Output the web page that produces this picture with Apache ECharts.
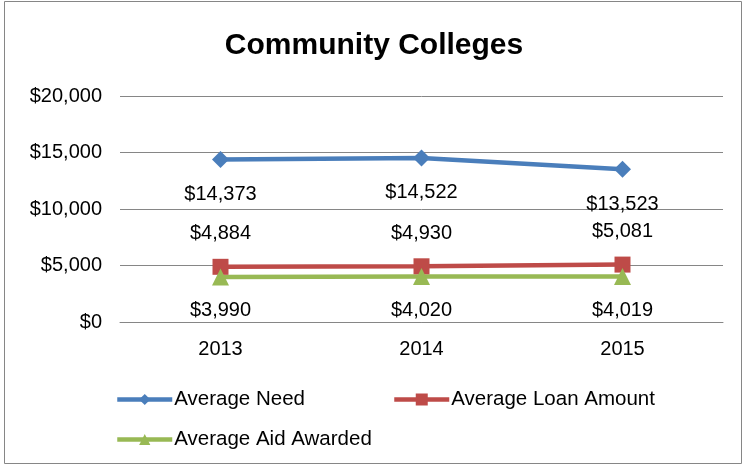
<!DOCTYPE html>
<html><head><meta charset="utf-8">
<script src="https://cdn.jsdelivr.net/npm/echarts@6/dist/echarts.min.js"></script>
<style>html,body{margin:0;padding:0;background:#fff}#c{width:748px;height:468px}</style>
</head><body><div id="c"></div>
<script>
const categories = ['2013', '2014', '2015'];
const averageNeed = [14373, 14522, 13523];
const averageLoan = [4884, 4930, 5081];
const averageAid = [3990, 4020, 4019];
const yTicks = [0, 5000, 10000, 15000, 20000];

const fmt = v => '$' + v.toLocaleString('en-US');
const font = 'Liberation Sans, Arial, sans-serif';
const FS = 20;
const chart = echarts.init(document.getElementById('c'));
const lbl = (pos, dist) => ({show: true, position: pos, distance: dist, color: '#000', fontSize: FS, fontFamily: font,
  formatter: p => fmt(p.value)});
const legText = {fontSize: 20.5, color: '#000', fontFamily: font, padding: [0, 0, 0, -3]};
const legLine = {width: 4.5};
chart.setOption({
  animation: false,
  title: {text: 'Community Colleges', left: 'center', top: 26,
    textStyle: {fontSize: 30, fontWeight: 'bold', color: '#000', fontFamily: font}},
  graphic: [{type: 'rect', shape: {x: 4.5, y: 1.5, width: 737, height: 462},
    style: {fill: 'none', stroke: '#868686', lineWidth: 1}}],
  grid: {left: 120, right: 25, top: 96, bottom: 146},
  legend: [
    {data: ['Average Need'], left: 110, top: 384, itemWidth: 55, itemHeight: 14,
      lineStyle: legLine, textStyle: legText},
    {data: ['Average Loan Amount'], left: 387, top: 384, itemWidth: 55, itemHeight: 15,
      lineStyle: legLine, textStyle: legText},
    {data: ['Average Aid Awarded'], left: 110, top: 424, itemWidth: 55, itemHeight: 14,
      lineStyle: legLine, textStyle: legText}
  ],
  xAxis: {type: 'category', data: categories, boundaryGap: true,
    axisLine: {lineStyle: {color: '#868686', width: 1}}, axisTick: {show: false},
    axisLabel: {color: '#000', fontSize: FS, fontFamily: font, margin: 17}},
  yAxis: {type: 'value', min: yTicks[0], max: yTicks[yTicks.length - 1], interval: 5000,
    axisLine: {show: false}, axisTick: {show: false},
    splitLine: {lineStyle: {color: '#868686', width: 1}},
    axisLabel: {color: '#000', fontSize: FS, fontFamily: font, margin: 18, formatter: v => fmt(v)}},
  series: [
    {name: 'Average Need', type: 'line', data: averageNeed, symbol: 'diamond', symbolSize: 17,
      color: '#4A7EBB', lineStyle: {width: 4.5, color: '#4A7EBB'}, itemStyle: {color: '#4A7EBB'},
      label: lbl('bottom', 16.5)},
    {name: 'Average Loan Amount', type: 'line', data: averageLoan, symbol: 'rect', symbolSize: 16,
      color: '#BE4B48', lineStyle: {width: 4.5, color: '#BE4B48'}, itemStyle: {color: '#BE4B48'},
      label: lbl('top', 15)},
    {name: 'Average Aid Awarded', type: 'line', data: averageAid, symbol: 'triangle', symbolSize: 17,
      color: '#98B954', lineStyle: {width: 4.5, color: '#98B954'}, itemStyle: {color: '#98B954'},
      label: lbl('bottom', 15.5)}
  ]
});
</script></body></html>
